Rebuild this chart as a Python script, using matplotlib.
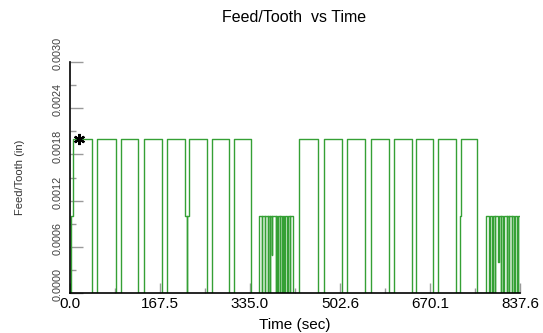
import matplotlib
matplotlib.use("Agg")
import matplotlib.pyplot as plt
import matplotlib.transforms as mtransforms
from matplotlib.ticker import MultipleLocator, FixedLocator, FormatStrFormatter

plt.rcParams['font.family'] = ['Liberation Sans', 'DejaVu Sans']

# Feed per tooth breakpoints (value holds until the next time)
time_s = [
    0.0, 1.9, 4.7, 40.4, 50.8, 85.1, 94.4, 127.1, 138.3, 171.8,
    181.1, 214.1, 217.3, 218.0, 222.1, 254.4, 263.7, 296.5, 305.8, 336.3,
    352.3, 357.9, 358.3, 362.4, 362.8, 368.0, 368.4, 372.3, 372.7, 376.5,
    376.9, 382.9, 383.3, 385.9, 386.3, 390.9, 391.3, 395.2, 395.6, 398.9,
    399.3, 404.5, 404.9, 409.5, 409.9, 414.5,
    426.8, 461.0, 472.8, 506.8, 516.1, 550.0, 560.8, 594.3, 603.6, 637.1,
    643.5, 675.1, 684.4, 718.5, 725.9, 727.8, 758.1,
    773.7, 780.5, 780.9, 786.1, 786.5, 791.1, 791.5, 797.3, 797.7, 801.7,
    802.1, 806.5, 806.9, 812.9, 813.3, 817.6, 818.0, 822.1, 822.5, 827.0,
    827.4, 832.6, 833.0, 837.0, 837.6,
]
feed_in = [
    0.0, 0.001, 0.002, 0.0, 0.002, 0.0, 0.002, 0.0, 0.002, 0.0,
    0.002, 0.001, 0.0, 0.001, 0.002, 0.0, 0.002, 0.0, 0.002, 0.0,
    0.001, 0.0, 0.001, 0.0, 0.001, 0.0, 0.001, 0.0, 0.001, 0.0005,
    0.001, 0.0, 0.001, 0.0, 0.001, 0.0, 0.001, 0.0, 0.001, 0.0,
    0.001, 0.0, 0.001, 0.0, 0.001, 0.0,
    0.002, 0.0, 0.002, 0.0, 0.002, 0.0, 0.002, 0.0, 0.002, 0.0,
    0.002, 0.0, 0.002, 0.0, 0.001, 0.002, 0.0,
    0.001, 0.0, 0.001, 0.0, 0.001, 0.0, 0.001, 0.0004, 0.001, 0.0,
    0.001, 0.0, 0.001, 0.0, 0.001, 0.0, 0.001, 0.0, 0.001, 0.0,
    0.001, 0.0, 0.001, 0.0, 0.0,
]

# current position marker
marker_t = 17.3
marker_feed = 0.002

T_MAX = 837.6
F_MAX = 0.003
x_ticks = [0.0, 167.52, 335.04, 502.56, 670.08, 837.6]
y_ticks = [0.0, 0.0006, 0.0012, 0.0018, 0.0024, 0.0030]

LINE_GREEN = '#35a035'
TICK_GRAY = '#9a9a9a'

fig = plt.figure(figsize=(5.43, 3.33), dpi=100)
ax = fig.add_axes([70/543, 1 - 293/333, 450/543, 231/333])

ax.plot(time_s, feed_in, drawstyle='steps-post', color=LINE_GREEN, lw=1.0)
ax.plot([marker_t], [marker_feed], linestyle='none', marker=(6, 2, 0),
        color='black', markersize=8, mew=1.6, clip_on=False)

ax.set_xlim(0, T_MAX)
ax.set_ylim(0, F_MAX)

for side in ['top', 'right']:
    ax.spines[side].set_visible(False)
for side in ['left', 'bottom']:
    ax.spines[side].set_linewidth(1.2)
    ax.spines[side].set_color('black')

ax.xaxis.set_major_locator(FixedLocator(x_ticks))
ax.xaxis.set_major_formatter(FormatStrFormatter('%.1f'))
ax.xaxis.set_minor_locator(MultipleLocator(T_MAX / 10))
ax.yaxis.set_major_locator(FixedLocator(y_ticks))
ax.yaxis.set_major_formatter(FormatStrFormatter('%.4f'))
ax.yaxis.set_minor_locator(MultipleLocator(0.0003))

ax.tick_params(axis='x', which='major', direction='in', length=7, width=1.0,
               color=TICK_GRAY, labelsize=11, pad=3, labelcolor='black')
ax.tick_params(axis='x', which='minor', direction='in', length=3.5, width=1.0,
               color=TICK_GRAY)
ax.tick_params(axis='y', which='major', direction='in', length=9, width=1.0,
               color=TICK_GRAY, labelsize=7.8, pad=5, labelcolor='#404040')
ax.tick_params(axis='y', which='minor', direction='in', length=4.5, width=1.0,
               color=TICK_GRAY)

# rotated y labels sit a little above their ticks
lift = mtransforms.ScaledTranslation(0, 6/72, fig.dpi_scale_trans)
for lbl in ax.get_yticklabels():
    lbl.set_rotation(90)
    lbl.set_va('center')
    lbl.set_transform(lbl.get_transform() + lift)

ax.set_xlabel('Time (sec)', fontsize=11)
ax.xaxis.set_label_coords(0.5, -0.11)
ax.set_ylabel('Feed/Tooth (in)', fontsize=8, color='#333333')
ax.yaxis.set_label_coords(-0.1, 0.5)

fig.text(294/543, 1 - 17/333, 'Feed/Tooth  vs Time', ha='center', va='center',
         fontsize=11.5)

fig.savefig('out.png', dpi=100)
